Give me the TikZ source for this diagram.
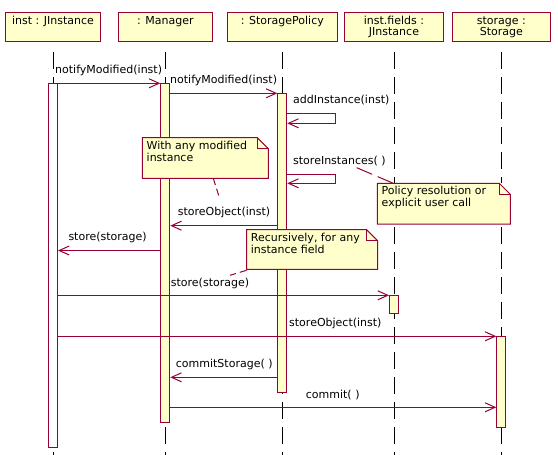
\documentclass[tikz,border=0pt]{standalone}
\usepackage{fontspec}
\setmainfont{DejaVu Sans}
\usetikzlibrary{arrows.meta}
\definecolor{umlred}{RGB}{153,0,51}
\definecolor{umlfill}{RGB}{255,255,204}
\tikzset{
  umltext/.style = {font=\fontsize{11}{12}\selectfont, text=black},
  objbox/.style = {umltext, rectangle, draw=umlred, fill=umlfill, line width=1pt,
    align=center, inner sep=0pt, minimum height=29pt,
    font=\fontsize{11}{11}\selectfont},% object at the top
  objline/.style = {objbox, text height=8.4pt, text depth=13.2pt},% object, one line
  lifeline/.style = {draw=black, line width=1pt, dash pattern=on 17pt off 8pt},
  act/.style = {rectangle, draw=umlred, fill=umlfill, line width=1pt,
    minimum width=9pt, inner sep=0pt, anchor=north},% activation
  msg/.style = {draw=umlred, line width=1pt, ->},
  msglabel/.style = {umltext, anchor=base west, inner sep=0pt},
  notebox/.style = {umltext, rectangle, fill=umlfill, anchor=north west,
    inner xsep=4.4pt, inner ysep=3pt, outer sep=0pt},
  noteline/.style = {draw=umlred, line width=1pt},
  noteconn/.style = {draw=umlred, line width=1pt, dash pattern=on 7pt off 4pt}
}
\begin{document}
\begin{tikzpicture}[x=1pt, y=-1pt, >={Straight Barb[length=10pt,width=9pt]}]
\fill[white] (0,0) rectangle (558,455);
\useasboundingbox (0,0) rectangle (558,455);
% objects
\node[objline, minimum width=95.4pt] (hInst) at (53,26.8) {inst : JInstance};
\node[objline, minimum width=94pt] (hMgr) at (165.3,26.8) {: Manager};
\node[objline, minimum width=110pt] (hSP) at (282.3,26.8) {: StoragePolicy};
\node[objbox, minimum width=99.4pt] (hFld) at (394,26.8) {inst.fields :\\JInstance};
\node[objbox, minimum width=98pt] (hSto) at (501.3,26.8) {storage :\\Storage};
\foreach \h in {hInst,hMgr,hSP,hFld,hSto}
  \draw[lifeline] ([yshift=-10pt]\h.south) -- (\h.south |- 0,455);
% activations
\node[act, fill=white, minimum height=363.4pt] (aInst) at (hInst.south |- 0,83.3) {};
\node[act, minimum height=339pt] (aMgr) at (hMgr.south |- 0,83.3) {};
\node[act, minimum height=298.4pt] (aSP) at (hSP.south |- 0,93.3) {};
\node[act, minimum height=18pt] (aFld) at (hFld.south |- 0,295.3) {};
\node[act, minimum height=91pt] (aSto) at (hSto.south |- 0,336.3) {};
% messages
\draw[msg] (aInst.north east) -- (aMgr.north west);
\node[msglabel] (lNotifyA) at (55,73) {notifyModified(inst)};
\draw[msg] (aMgr.east |- aSP.north) -- (aSP.north west);
\node[msglabel] (lNotifyB) at (170,83) {notifyModified(inst)};
\draw[msg] (aSP.east |- 0,113.3) -| (335.7,123.3) -- (aSP.east |- 0,123.3);
\node[msglabel] (lAdd) at (293,103.5) {addInstance(inst)};
\draw[msg] (aSP.east |- 0,174) -| (335.7,183.3) -- (aSP.east |- 0,183.3);
\node[msglabel] (lStoreInst) at (293,164) {storeInstances( )};
\draw[msg] (aSP.west |- 0,225.7) -- (aMgr.east |- 0,225.7);
\node[msglabel] (lObjA) at (177.7,215) {storeObject(inst)};
\draw[msg] (aMgr.west |- 0,250.5) -- (aInst.east |- 0,250.5);
\node[msglabel] (lStoreA) at (68.3,240) {store(storage)};
\draw[msg] (aInst.east |- aFld.north) -- (aFld.north west);
\node[msglabel] (lStoreB) at (170.7,286) {store(storage)};
\draw[msg] (aInst.east |- aSto.north) -- (aSto.north west);
\node[msglabel] (lObjB) at (289,326.3) {storeObject(inst)};
\draw[msg] (aSP.west |- 0,377.3) -- (aMgr.east |- 0,377.3);
\node[msglabel] (lCommitSt) at (175.7,367) {commitStorage( )};
\draw[msg] (aMgr.east |- 0,407.3) -- (aSto.west |- 0,407.3);
\node[msglabel] (lCommit) at (305.7,398) {commit( )};
% notes
\node[notebox] (nMod) at (142.3,137.7) {\parbox[c][34.6pt][t]{117.2pt}{With any modified\\instance}};
\node[notebox] (nPol) at (377.3,183.3) {\parbox[c][34.7pt][t]{124.2pt}{Policy resolution or\\explicit user call}};
\node[notebox] (nRec) at (246.5,229.7) {\parbox[c][33.6pt][t]{122.2pt}{Recursively, for any\\instance field}};
\foreach \n in {nMod,nPol,nRec}{
  \fill[white] ([xshift=-11pt]\n.north east) -- (\n.north east) -- ([yshift=-11pt]\n.north east) -- cycle;
  \draw[noteline] (\n.north west) -- ([xshift=-11pt]\n.north east) -- ([yshift=-11pt]\n.north east)
    -- (\n.south east) -- (\n.south west) -- cycle;
  \draw[noteline] ([xshift=-11pt]\n.north east) |- ([yshift=-11pt]\n.north east);
}
\coordinate (kMod) at (219.3,197.3);
\draw[noteconn] ([xshift=71pt]nMod.south west) -- (kMod);
\coordinate (kPol) at (356.7,167.7);
\draw[noteconn, dash pattern=on 17pt off 6pt] ([xshift=16pt]nPol.north west) -- (kPol);
\coordinate (kRec) at (230,275.3);
\draw[noteconn] ([yshift=-1pt]nRec.south west) -- (kRec);
\end{tikzpicture}
\end{document}
